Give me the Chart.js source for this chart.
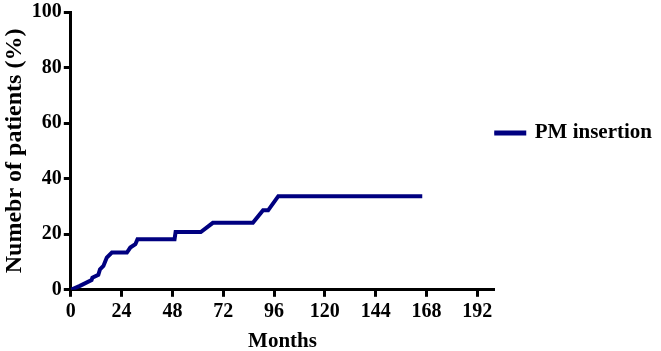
<!DOCTYPE html>
<html>
<head>
<meta charset="utf-8">
<script src="https://cdn.jsdelivr.net/npm/chart.js@4/dist/chart.umd.min.js"></script>
<style>
  html, body { margin: 0; padding: 0; background: #fff; }
</style>
</head>
<body>
<canvas id="pmChart" width="661" height="351"></canvas>
<script>
// cumulative PM insertion
const months  = [0, 4.3, 9.8, 10.2, 13, 13.8, 15.4, 17, 19.4, 26.5, 28.1, 30.5, 31.5, 49, 49.5, 61.4, 67.1, 86, 90.8, 93.2, 98, 166];
const percent = [0, 1.4, 3.5, 4.4, 5.4, 7.4, 8.6, 11.6, 13.4, 13.4, 15.2, 16.4, 18.2, 18.2, 20.8, 20.8, 24.1, 24.1, 28.6, 28.6, 33.7, 33.7];
const xTicks = [0, 24, 48, 72, 96, 120, 144, 168, 192];
const yTicks = [0, 20, 40, 60, 80, 100];
const seriesName = 'PM insertion';

const navy = '#000080';
const serif = "'Liberation Serif', 'Times New Roman', serif";

const axisStyle = {
    border: { color: '#000', width: 3 },
    grid: { drawOnChartArea: false, color: '#000', tickLength: 7, tickWidth: 3 },
};

// the legend sits a bit above the middle of the plot in the original
const legendShift = {
    id: 'legendShift',
    afterLayout(chart) {
        const lg = chart.legend;
        const mid = (chart.chartArea.top + chart.chartArea.bottom) / 2 - 18;
        const h = lg.bottom - lg.top;
        lg.top = mid - h / 2;
        lg.bottom = mid + h / 2;
    }
};

new Chart(document.getElementById('pmChart'), {
    type: 'line',
    data: {
        datasets: [{
            label: seriesName,
            data: months.map((m, i) => ({ x: m, y: percent[i] })),
            borderColor: navy,
            backgroundColor: navy,
            borderWidth: 4,
            pointRadius: 0,
            tension: 0,
            fill: false
        }]
    },
    options: {
        responsive: false,
        animation: false,
        layout: { padding: { top: 0, right: 2, left: 0, bottom: -3 } },
        plugins: {
            tooltip: { enabled: false },
            legend: {
                position: 'right',
                labels: {
                    boxWidth: 30,
                    boxHeight: 1,
                    padding: 0,
                    color: '#000',
                    font: { family: serif, size: 21, weight: 'bold' }
                }
            }
        },
        scales: {
            x: {
                type: 'linear',
                min: 0, max: 200,
                ...axisStyle,
                afterBuildTicks: s => { s.ticks = xTicks.map(v => ({ value: v })); },
                ticks: { color: '#000', padding: 3, maxRotation: 0, font: { family: serif, size: 20, weight: 'bold' } },
                title: { display: true, text: 'Months', color: '#000', padding: { top: 2, bottom: 0 }, font: { family: serif, size: 21, weight: 'bold' } }
            },
            y: {
                min: 0, max: 100,
                ...axisStyle,
                afterBuildTicks: s => { s.ticks = yTicks.map(v => ({ value: v })); },
                ticks: { color: '#000', padding: 2, font: { family: serif, size: 20, weight: 'bold', lineHeight: 1 } },
                title: { display: true, text: 'Numebr of patients (%)', color: '#000', padding: { top: 0, bottom: 1 }, font: { family: serif, size: 24, weight: 'bold' } }
            }
        }
    },
    plugins: [legendShift]
});
</script>
</body>
</html>
